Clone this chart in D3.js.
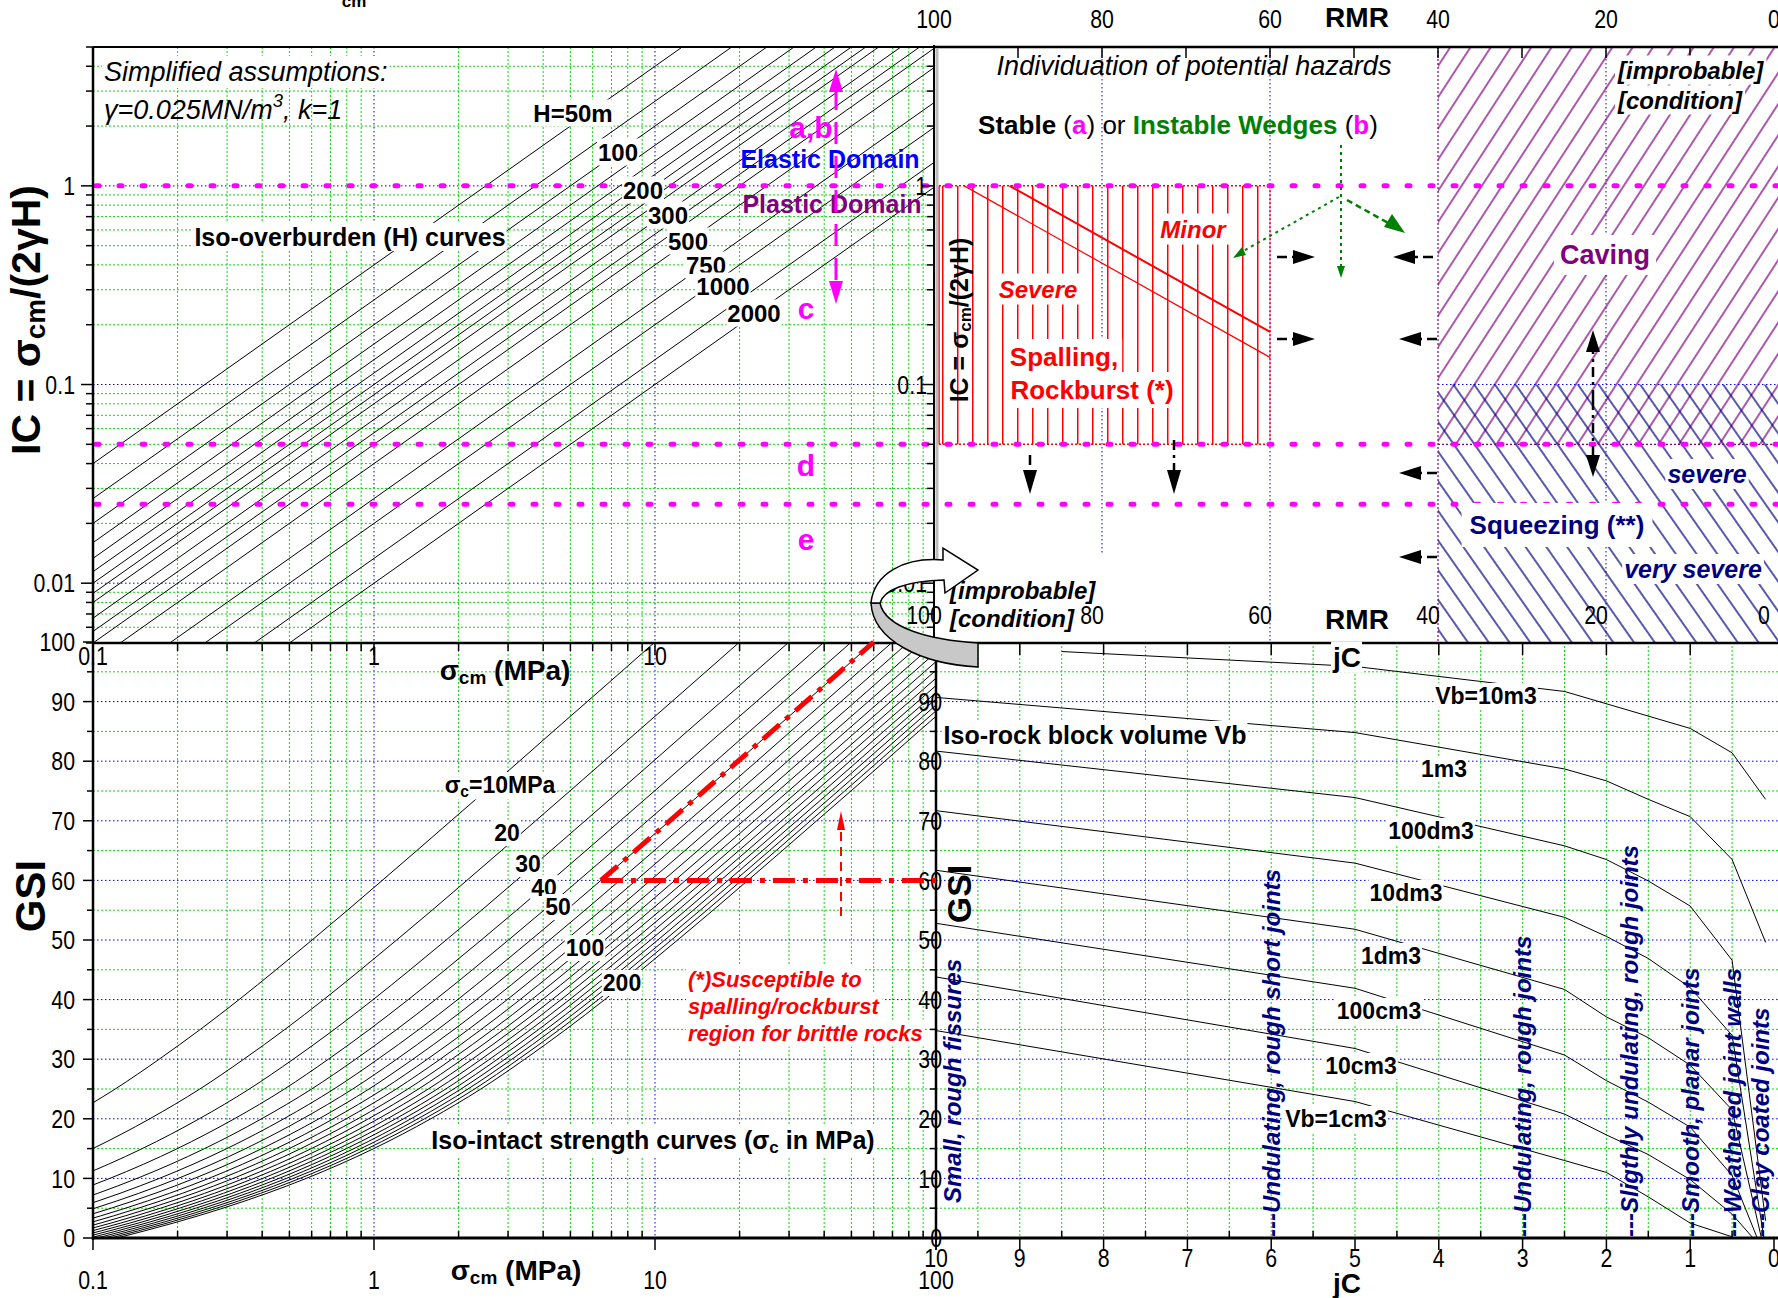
<!DOCTYPE html>
<html><head><meta charset="utf-8">
<script src="https://cdn.jsdelivr.net/npm/d3@7"></script>
<style>body{margin:0;background:#fff} text{font-family:'Liberation Sans',Arial,sans-serif}</style>
</head><body><script>
// ---------------- DATA ----------------
// iso-overburden lines (top-left), depth H in m, gamma in MN/m3
const overburdenDepths = [50,75,100,125,150,175,200,225,250,300,350,400,500,750,1000,1500,2000];
const overburdenLabels = ["H=50m","100","200","300","500","750","1000","2000"];
const unitWeight = 0.025;
const icThresholds = [1, 0.05, 0.025];          // magenta limits
// iso-intact strength curves (bottom-left)
const intactStrengths = [10,20,30,40,50,60,70,80,90,100,110,120,130,140,150,160,170,180,190,200];
const intactLabels = ["10","20","30","40","50","100","200"];
const shapeGSI   = [0,2.5,5,7.5,10,15,20,25,30,35,40,45,50,55,60,65,70,75,80,85,90,95,100];
const shapeRatio = [0.000608,0.000965,0.00145,0.00208,0.00287,0.00499,0.00796,0.0120,0.0172,0.0241,0.0331,0.0448,0.0602,0.0805,0.107,0.142,0.188,0.249,0.329,0.434,0.574,0.758,1];
// iso block volume curves (bottom-right): [jC, GSI]
const vb10m3  = [[8.5,98.4],[5,95.9],[2.5,91.7],[1,85.5],[0.5,81.4],[0.1,73.6]];
const vb1m3   = [[10,90.7],[5,84.8],[2.5,78.7],[2,76.7],[1.5,73.6],[1,70.7],[0.5,63.5],[0.1,49.6]];
const vb100dm3= [[10,81.7],[5,73.9],[2.5,65.8],[2,63.5],[1.5,59.9],[1,55.7],[0.5,46.6],[0.1,2.9]];
const vb10dm3 = [[10,71.7],[5,62.9],[2.5,53.8],[2,50.6],[1.5,46.9],[1,42],[0.5,34],[0.12,0]];
const vb1dm3  = [[10,61.7],[5,51.8],[2.5,41.7],[2,37.1],[1.5,33.6],[1,29],[0.5,21.5],[0.15,0]];
const vb100cm3= [[10,52.8],[5,41.9],[2.5,30.7],[2,26.4],[1.5,22.8],[1,18.6],[0.5,10.5],[0.2,0]];
const vb10cm3 = [[10,43.8],[5,31.8],[2.5,20.8],[2,17.3],[1.5,14.0],[1,9.8],[0.5,4],[0.25,0]];
const vb1cm3  = [[10,34.8],[5,22.9],[2.5,13.0],[2,11.0],[1.5,6.9],[1,2.5],[0.5,0.2]];
const blockCurves = [vb10m3,vb1m3,vb100dm3,vb10dm3,vb1dm3,vb100cm3,vb10cm3,vb1cm3];
const blockLabels = ["Vb=10m3","1m3","100dm3","10dm3","1dm3","100cm3","10cm3","Vb=1cm3"];
const jointTypes = ["Small, rough fissures","---Undulating, rough short joints","---Undulating, rough joints","---Sligthly undulating, rough joints","---Smooth, planar joints","---Weathered joint walls","---Clay coated joints"];
const jointJc = [9.8,6,3,1.73,1,0.49,0.16];
const rmrTicks = [100,80,60,40,20,0];
const jcTicks = [10,9,8,7,6,5,4,3,2,1,0];
const gsiTicks = [0,10,20,30,40,50,60,70,80,90,100];
const logTickLabels = ["0.1","1","10","100"];
// spalling boundary lines [RMR, IC]
const spallLineA = [[96.4,1.0],[60,0.137]];
const spallLineB = [[91,1.0],[60,0.184]];

// ---------------- SCALES ----------------
const W=1778,H=1298;
const xCm = d3.scaleLog().domain([0.1,100]).range([93,936]);
const yIC = d3.scaleLog().domain([0.005,5]).range([643,47]);
const xRMR = d3.scaleLinear().domain([100,0]).range([934,1774]);
const yGSI = d3.scaleLinear().domain([0,100]).range([1238,642]);
const xJC = d3.scaleLinear().domain([10,0]).range([936,1774]);

const svg = d3.select('body').append('svg').attr('width',W).attr('height',H).style('display','block');
svg.append('rect').attr('width',W).attr('height',H).attr('fill','#fff');
const defs = svg.append('defs');
function clip(id,x0,y0,x1,y1){defs.append('clipPath').attr('id',id).append('rect').attr('x',x0).attr('y',y0).attr('width',x1-x0).attr('height',y1-y0);}
clip('cTL',93,47,936,643); clip('cBL',93,642,936,1238); clip('cBR',936,642,1778,1238); clip('cTR',934,47,1778,642);

const GREEN='#00e000', BLUE='#0000ff', MAG='#ff00ff', PURP='#800080', NAVY='#000080', DGREEN='#008000', RED='#ff0000';

function logTicks(lo,hi){const a=[];for(let e=-4;e<=3;e++){for(let k=1;k<10;k++){const v=+(k*Math.pow(10,e)).toPrecision(6);if(v>=lo*0.999&&v<=hi*1.001)a.push({v,major:k===1});}}return a;}
function hline(g,y,x0,x1,col,dash,w){g.append('line').attr('x1',x0).attr('x2',x1).attr('y1',y).attr('y2',y).attr('stroke',col).attr('stroke-width',w||1).attr('stroke-dasharray',dash);}
function vline(g,x,y0,y1,col,dash,w){g.append('line').attr('x1',x).attr('x2',x).attr('y1',y0).attr('y2',y1).attr('stroke',col).attr('stroke-width',w||1).attr('stroke-dasharray',dash);}
const GD='2,2', BD='1.5,2.5';

// ---------------- GRIDS ----------------
const grid = svg.append('g');
{const g=grid.append('g').attr('clip-path','url(#cTL)');
 logTicks(0.1,100).forEach(t=>{ if(t.v>0.1&&t.v<100) vline(g,xCm(t.v),47,643,t.major?BLUE:GREEN,t.major?BD:GD);});
 logTicks(0.005,5).forEach(t=>{ if(t.v>0.005&&t.v<5) hline(g,yIC(t.v),93,936,t.major?BLUE:GREEN,t.major?BD:GD);});}
{const g=grid.append('g').attr('clip-path','url(#cBL)');
 logTicks(0.1,100).forEach(t=>{ if(t.v>0.1&&t.v<100) vline(g,xCm(t.v),642,1238,t.major?BLUE:GREEN,t.major?BD:GD);});
 d3.range(5,100,5).forEach(v=>hline(g,yGSI(v),93,936,v%10===0?BLUE:GREEN,v%10===0?BD:GD));}
{const g=grid.append('g').attr('clip-path','url(#cBR)');
 d3.range(0.5,10,0.5).forEach(v=>vline(g,xJC(v),642,1238,GREEN,GD));
 d3.range(5,100,5).forEach(v=>hline(g,yGSI(v),936,1778,v%10===0?BLUE:GREEN,v%10===0?BD:GD));}

// text helper
function T(parent,x,y,str,o={}){
  const fs=o.size||24;
  const t=parent.append('text').attr('x',x).attr('y',y).attr('font-size',fs)
   .attr('font-weight',o.bold?'bold':'normal').attr('font-style',o.italic?'italic':'normal')
   .attr('fill',o.fill||'#000').attr('text-anchor',o.anchor||'middle').attr('dominant-baseline','central');
  let tr='';
  if(o.rot) tr+=`rotate(${o.rot},${x},${y}) `;
  if(o.sx) tr+=`translate(${x},${y}) scale(${o.sx},1) translate(${-x},${-y})`;
  if(tr) t.attr('transform',tr);
  if(Array.isArray(str)){ str.forEach(p=>{const s=t.append('tspan').text(p.t);
      if(p.small) s.attr('font-size',fs*0.68);
      if(p.dy) s.attr('dy',p.dy);
      if(p.fill) s.attr('fill',p.fill); if(p.w) s.attr('font-weight',p.w);}); }
  else t.text(str);
  if(o.box){const b=t.node().getBBox();const p=o.pad||2;
    const r=parent.insert('rect',()=>t.node()).attr('x',b.x-p).attr('y',b.y-p+1).attr('width',b.width+2*p).attr('height',b.height+2*p-2).attr('fill','#fff');
    if(tr) r.attr('transform',tr);}
  return t;
}

// ---------------- TOP-LEFT CURVES ----------------
const tl = svg.append('g').attr('clip-path','url(#cTL)');
const lineLog = d3.line().x(d=>xCm(d[0])).y(d=>yIC(d[1]));
overburdenDepths.forEach(h=>{
  const pts=[0.01,1000].map(s=>[s, s/(2*unitWeight*h)]);
  tl.append('path').attr('d',lineLog(pts)).attr('fill','none').attr('stroke','#000').attr('stroke-width',1);
});

// ---------------- BOTTOM-LEFT CURVES ----------------
const bl = svg.append('g').attr('clip-path','url(#cBL)');
const lineBL = d3.line().x(d=>xCm(d[0])).y(d=>yGSI(d[1])).curve(d3.curveMonotoneX);
intactStrengths.forEach(sc=>{
  const pts=shapeGSI.map((g,i)=>[sc*shapeRatio[i],g]);
  bl.append('path').attr('d',lineBL(pts)).attr('fill','none').attr('stroke','#000').attr('stroke-width',1);
});

// ---------------- BOTTOM-RIGHT CURVES ----------------
const br = svg.append('g').attr('clip-path','url(#cBR)');
const lineBR = d3.line().x(d=>xJC(d[0])).y(d=>yGSI(d[1]));
blockCurves.forEach(c=>br.append('path').attr('d',lineBR(c)).attr('fill','none').attr('stroke','#000').attr('stroke-width',1));

// ---------------- TOP-RIGHT PANEL ----------------
const tr = svg.append('g').attr('clip-path','url(#cTR)');
tr.append('rect').attr('x',934).attr('y',47).attr('width',844).attr('height',595).attr('fill','#fff');
const pRed=defs.append('pattern').attr('id','pRed').attr('patternUnits','userSpaceOnUse').attr('x',942).attr('y',0).attr('width',15).attr('height',20);
pRed.append('line').attr('x1',0.75).attr('x2',0.75).attr('y1',0).attr('y2',20).attr('stroke',RED).attr('stroke-width',1.5);
const pPur=defs.append('pattern').attr('id','pPur').attr('patternUnits','userSpaceOnUse').attr('width',17).attr('height',40).attr('patternTransform','rotate(33)');
pPur.append('line').attr('x1',1).attr('x2',1).attr('y1',0).attr('y2',40).attr('stroke',PURP).attr('stroke-width',1.3);
const pNav=defs.append('pattern').attr('id','pNav').attr('patternUnits','userSpaceOnUse').attr('width',17).attr('height',40).attr('patternTransform','rotate(-35)');
pNav.append('line').attr('x1',1).attr('x2',1).attr('y1',0).attr('y2',40).attr('stroke',NAVY).attr('stroke-width',1.3);

[80,60,20].forEach(v=>vline(tr,xRMR(v),47,v===80?555:642,BLUE,BD));
tr.append('rect').attr('x',xRMR(40)).attr('y',47).attr('width',xRMR(0)-xRMR(40)+10).attr('height',yIC(0.05)-47).attr('fill','url(#pPur)');
tr.append('rect').attr('x',xRMR(40)).attr('y',yIC(0.1)).attr('width',xRMR(0)-xRMR(40)+10).attr('height',642-yIC(0.1)).attr('fill','url(#pNav)');
hline(tr,yIC(0.1),xRMR(40),1778,BLUE,BD);
vline(tr,xRMR(40),47,642,PURP,'2,2',1.2);
hline(tr,yIC(0.05),xRMR(40),1778,PURP,'2,2',1.2);
const sx0=939, sx1=xRMR(60), sy0=yIC(1), sy1=yIC(0.05);
tr.append('rect').attr('x',sx0).attr('y',sy0).attr('width',sx1-sx0).attr('height',sy1-sy0).attr('fill','url(#pRed)');
vline(tr,sx0,sy0,sy1,RED,null,1.5);
vline(tr,sx1,sy0,sy1,RED,'2,2',1.5);
hline(tr,sy0,sx0,sx1,RED,'2,2',1.5);
hline(tr,sy1,sx0,sx1,RED,'2,2',1.5);
{const ln=d3.line().x(d=>xRMR(d[0])).y(d=>yIC(d[1]));
 tr.append('path').attr('d',ln(spallLineA)).attr('stroke',RED).attr('stroke-width',1.2).attr('fill','none');
 tr.append('path').attr('d',ln(spallLineB)).attr('stroke',RED).attr('stroke-width',2).attr('fill','none');}

// ---------------- MAGENTA LIMITS ----------------
const mag = svg.append('g');
icThresholds.forEach(v=>{
  mag.append('line').attr('x1',96).attr('x2',1778).attr('y1',yIC(v)).attr('y2',yIC(v)).attr('stroke',MAG)
   .attr('stroke-width',5).attr('stroke-linecap','round').attr('stroke-dasharray','3,20');
});

// ---------------- AXES ----------------
const ax = svg.append('g').attr('stroke','#000');
function seg(x1,y1,x2,y2,w){ax.append('line').attr('x1',x1).attr('y1',y1).attr('x2',x2).attr('y2',y2).attr('stroke-width',w||1.5);}
seg(93,47,936,47,2); seg(93,47,93,1240,2.5); seg(92,643,1778,643,2.5); seg(92,1238,1778,1238,3);
seg(936,643,936,1240,2.5); seg(934,47,1778,47,2.5); seg(934,45,934,643,2);
ax.append('rect').attr('x',935.5).attr('y',48).attr('width',3).attr('height',514).attr('fill','#bbb').attr('stroke','none');
logTicks(0.005,5).forEach(t=>{const y=yIC(t.v); seg(93-(t.major?12:7),y,93,y,1.5); seg(934-(t.major?12:7),y,934,y,1.5);});
logTicks(0.1,100).forEach(t=>{const x=xCm(t.v); seg(x,643,x,643+(t.major?12:8),1.5);});
logTicks(0.1,100).forEach(t=>{const x=xCm(t.v); if(t.major) seg(x,1238,x,1250,1.5); else seg(x,1231,x,1238,1.5);});
d3.range(0,101,5).forEach(v=>{const y=yGSI(v); seg(93-(v%10?6:10),y,93,y,1.5); seg(936-(v%10?6:10),y,936,y,1.5);});
d3.range(0,10.01,0.5).forEach(v=>{const x=xJC(v); if(v%1===0){seg(x,1238,x,1250,1.5);} else seg(x,1231,x,1238,1.5);});
d3.range(1,10,1).forEach(v=>{const x=xJC(v); seg(x,643,x,655,1.5);});
d3.range(90,0,-10).forEach(v=>{const x=xRMR(v); seg(x,47,x,58,1.5);});

// ---------------- TEXT ----------------
const tx = svg.append('g');
const NUM={size:26,sx:0.82};
[[1,'1'],[0.1,'0.1'],[0.01,'0.01']].forEach(d=>T(tx,75,yIC(d[0]),d[1],{...NUM,anchor:'end'}));
[[1,'1'],[0.1,'0.1'],[0.01,'0.01']].forEach(d=>T(tx,927,yIC(d[0]),d[1],{...NUM,anchor:'end'}));
logTickLabels.slice(0,3).forEach((s,i)=>T(tx,xCm(Math.pow(10,i-1)),656,s,NUM));
logTickLabels.forEach((s,i)=>T(tx,xCm(Math.pow(10,i-1)),1280,s,NUM));
gsiTicks.forEach(v=>{T(tx,75,yGSI(v),String(v),{...NUM,anchor:'end'}); if(v<100) T(tx,942,yGSI(v),String(v),{...NUM,anchor:'end'});});
jcTicks.forEach(v=>T(tx,xJC(v),1258,String(v),NUM));
rmrTicks.forEach(v=>{T(tx,xRMR(v),19,String(v),NUM); T(tx,xRMR(v)-10,615,String(v),NUM);});
T(tx,1357,17,'RMR',{size:28,bold:true}); T(tx,1357,619,'RMR',{size:28,bold:true});
T(tx,1347,1283,'jC',{size:28,bold:true}); T(tx,1347,657,'jC',{size:28,bold:true,box:true,pad:1});
const sig=[{t:'σ'},{t:'cm',dy:7,small:true},{t:' (MPa)',dy:-7}];
T(tx,505,670,sig,{size:28,bold:true});
T(tx,516,1270,sig,{size:28,bold:true});
T(tx,354,1,'cm',{size:17,bold:true});
T(tx,26,320,[{t:'IC = σ'},{t:'cm',dy:9,small:true},{t:'/(2γH)',dy:-9}],{size:41,bold:true,rot:-90});
T(tx,959,320,[{t:'IC = σ'},{t:'cm',dy:6,small:true},{t:'/(2γH)',dy:-6}],{size:25,bold:true,rot:-90});
T(tx,30,896,'GSI',{size:42,bold:true,rot:-90});
T(tx,959,894,'GSI',{size:34,bold:true,rot:-90});

// TL annotations
T(tx,104,72,'Simplified assumptions:',{size:27,italic:true,anchor:'start',box:true});
T(tx,104,110,[{t:'γ=0.025MN/m'},{t:'3',dy:-10,small:true},{t:', k=1',dy:10}],{size:27,italic:true,anchor:'start'});
T(tx,350,237,'Iso-overburden (H) curves',{size:25,bold:true,box:true,pad:1});
const hLabPos=[[573,113],[618,152],[643,190],[668,215],[688,241],[706,265],[723,286],[754,313]];
overburdenLabels.forEach((s,i)=>T(tx,hLabPos[i][0],hLabPos[i][1],s,{size:24,bold:true,box:true,pad:1}));
{const g=svg.append('g');
 g.append('line').attr('x1',836).attr('x2',836).attr('y1',88).attr('y2',285).attr('stroke',MAG).attr('stroke-width',3).attr('stroke-dasharray','22,12');
 g.append('path').attr('d','M836,69 L829,92 L843,92 Z').attr('fill',MAG);
 g.append('path').attr('d','M836,304 L829,281 L843,281 Z').attr('fill',MAG);}
T(tx,811,127,'a,b',{size:30,bold:true,fill:MAG});
T(tx,830,159,'Elastic Domain',{size:25,bold:true,fill:BLUE});
T(tx,832,204,'Plastic Domain',{size:25,bold:true,fill:PURP});
T(tx,806,308,'c',{size:30,bold:true,fill:MAG});
T(tx,806,465,'d',{size:30,bold:true,fill:MAG});
T(tx,806,539,'e',{size:30,bold:true,fill:MAG});

// BL annotations
T(tx,500,785,[{t:'σ'},{t:'c',dy:6,small:true},{t:'=10MPa',dy:-6}],{size:23,bold:true,box:true,pad:1});
const scLabPos=[[507,833],[528,864],[544,888],[558,907],[585,948],[622,983]];
intactLabels.slice(1).forEach((s,i)=>T(tx,scLabPos[i][0],scLabPos[i][1],s,{size:23,bold:true,box:true,pad:1}));
T(tx,653,1140,[{t:'Iso-intact strength curves (σ'},{t:'c',dy:7,small:true},{t:' in MPa)',dy:-7}],{size:25,bold:true,box:true,pad:1});
['(*)Susceptible to','spalling/rockburst','region for brittle rocks'].forEach((s,i)=>T(tx,688,979+i*27,s,{size:22,bold:true,italic:true,fill:RED,anchor:'start',box:true,pad:2}));
{const pts=shapeGSI.map((g,i)=>[60*shapeRatio[i],g]).filter(d=>d[1]>=60);
 const g=svg.append('g');
 g.append('path').attr('d',lineBL(pts)).attr('fill','none').attr('stroke',RED).attr('stroke-width',5).attr('stroke-dasharray','22,8,5,8');
 g.append('line').attr('x1',xCm(pts[0][0])).attr('x2',936).attr('y1',yGSI(60)).attr('y2',yGSI(60)).attr('stroke',RED).attr('stroke-width',5).attr('stroke-dasharray','22,8,5,8');
 g.append('line').attr('x1',841).attr('x2',841).attr('y1',916).attr('y2',828).attr('stroke',RED).attr('stroke-width',2).attr('stroke-dasharray','9,6');
 g.append('path').attr('d','M841,811 L837,830 L845,830 Z').attr('fill',RED);}

// BR annotations
T(tx,1095,735,'Iso-rock block volume Vb',{size:25,bold:true,box:true,pad:1});
const vbLabPos=[[1486,696],[1444,769],[1431,831],[1406,893],[1391,956],[1379,1011],[1361,1066],[1336,1119]];
blockLabels.forEach((s,i)=>T(tx,vbLabPos[i][0],vbLabPos[i][1],s,{size:23,bold:true,box:true,pad:1}));
jointTypes.forEach((s,i)=>{const x=xJC(jointJc[i]); T(tx,x,i===0?1203:1237,s,{size:24,bold:true,italic:true,fill:NAVY,anchor:'start',rot:-90});});

// TR annotations
T(tx,1194,66,'Individuation of potential hazards',{size:27,italic:true});
T(tx,1178,125,[{t:'Stable ',w:'bold'},{t:'(',w:'normal'},{t:'a',fill:MAG,w:'bold'},{t:') or ',w:'normal'},{t:'Instable Wedges',fill:DGREEN,w:'bold'},{t:' (',w:'normal'},{t:'b',fill:MAG,w:'bold'},{t:')',w:'normal'}],{size:26});
T(tx,1618,70,'[improbable]',{size:24,bold:true,italic:true,anchor:'start',box:true,pad:2});
T(tx,1618,100,'[condition]',{size:24,bold:true,italic:true,anchor:'start',box:true,pad:2});
T(tx,1193,229,'Minor',{size:24,bold:true,italic:true,fill:RED,box:true,pad:3});
T(tx,1038,289,'Severe',{size:24,bold:true,italic:true,fill:RED,box:true,pad:3});
T(tx,1064,357,'Spalling,',{size:26,bold:true,fill:RED,box:true,pad:4});
T(tx,1092,390,'Rockburst (*)',{size:26,bold:true,fill:RED,box:true,pad:4});
T(tx,1605,255,'Caving',{size:27,bold:true,fill:PURP,box:true,pad:6});
T(tx,1707,474,'severe',{size:25,bold:true,italic:true,fill:NAVY,box:true,pad:2});
T(tx,1557,525,'Squeezing (**)',{size:26,bold:true,fill:NAVY,box:true,pad:8});
T(tx,1693,569,'very severe',{size:25,bold:true,italic:true,fill:NAVY,box:true,pad:2});

const arr=svg.append('g');
function barrow(x1,y1,x2,y2,len,wid){
  const dx=x2-x1,dy=y2-y1,L=Math.hypot(dx,dy),ux=dx/L,uy=dy/L;
  const bx=x2-ux*len,by=y2-uy*len;
  arr.append('line').attr('x1',x1).attr('y1',y1).attr('x2',bx).attr('y2',by).attr('stroke','#000').attr('stroke-width',2.5).attr('stroke-dasharray','10,5,3,5');
  arr.append('path').attr('d',`M${x2},${y2} L${bx-uy*wid},${by+ux*wid} L${bx+uy*wid},${by-ux*wid} Z`).attr('fill','#000');
}
barrow(1277,257,1315,257,22,7); barrow(1433,257,1393,257,22,7);
barrow(1277,339,1315,339,22,7); barrow(1437,339,1399,339,22,7);
barrow(1437,473,1399,473,22,7); barrow(1437,557,1399,557,22,7);
barrow(1030,455,1030,494,24,7); barrow(1174,440,1174,494,24,7);
barrow(1593,400,1593,330,22,7); barrow(1593,400,1593,477,22,7);
{const g=svg.append('g');
 g.append('line').attr('x1',1341).attr('y1',145).attr('x2',1341).attr('y2',270).attr('stroke',DGREEN).attr('stroke-width',2).attr('stroke-dasharray','3,4');
 g.append('path').attr('d','M1341,278 L1337,266 L1345,266 Z').attr('fill',DGREEN);
 g.append('line').attr('x1',1339).attr('y1',197).attr('x2',1238).attr('y2',254).attr('stroke',DGREEN).attr('stroke-width',2).attr('stroke-dasharray','3,4');
 g.append('path').attr('d','M1233,258 L1242,247 L1246,255 Z').attr('fill',DGREEN);
 g.append('line').attr('x1',1347).attr('y1',200).attr('x2',1390).attr('y2',224).attr('stroke',DGREEN).attr('stroke-width',2.5).attr('stroke-dasharray','6,4');
 g.append('path').attr('d','M1405,233 L1384,227 L1392,214 Z').attr('fill',DGREEN);}
T(tx,950,590,'[improbable]',{size:24,bold:true,italic:true,anchor:'start',box:true,pad:1});
T(tx,950,618,'[condition]',{size:24,bold:true,italic:true,anchor:'start',box:true,pad:1});

{const g=svg.append('g');
 g.append('path').attr('d','M871,603 C873,640 920,664 978,667 L978,643 C930,640 885,628 880,603 Z').attr('fill','#c8c8c8').attr('stroke','#000').attr('stroke-width',1.5);
 g.append('path').attr('d','M943,560 C905,557 874,573 871,603 L880,603 C884,590 905,581 944,580 L945,593 L978,570 L943,548 Z').attr('fill','#fff').attr('stroke','#000').attr('stroke-width',1.5);}
</script></body></html>
